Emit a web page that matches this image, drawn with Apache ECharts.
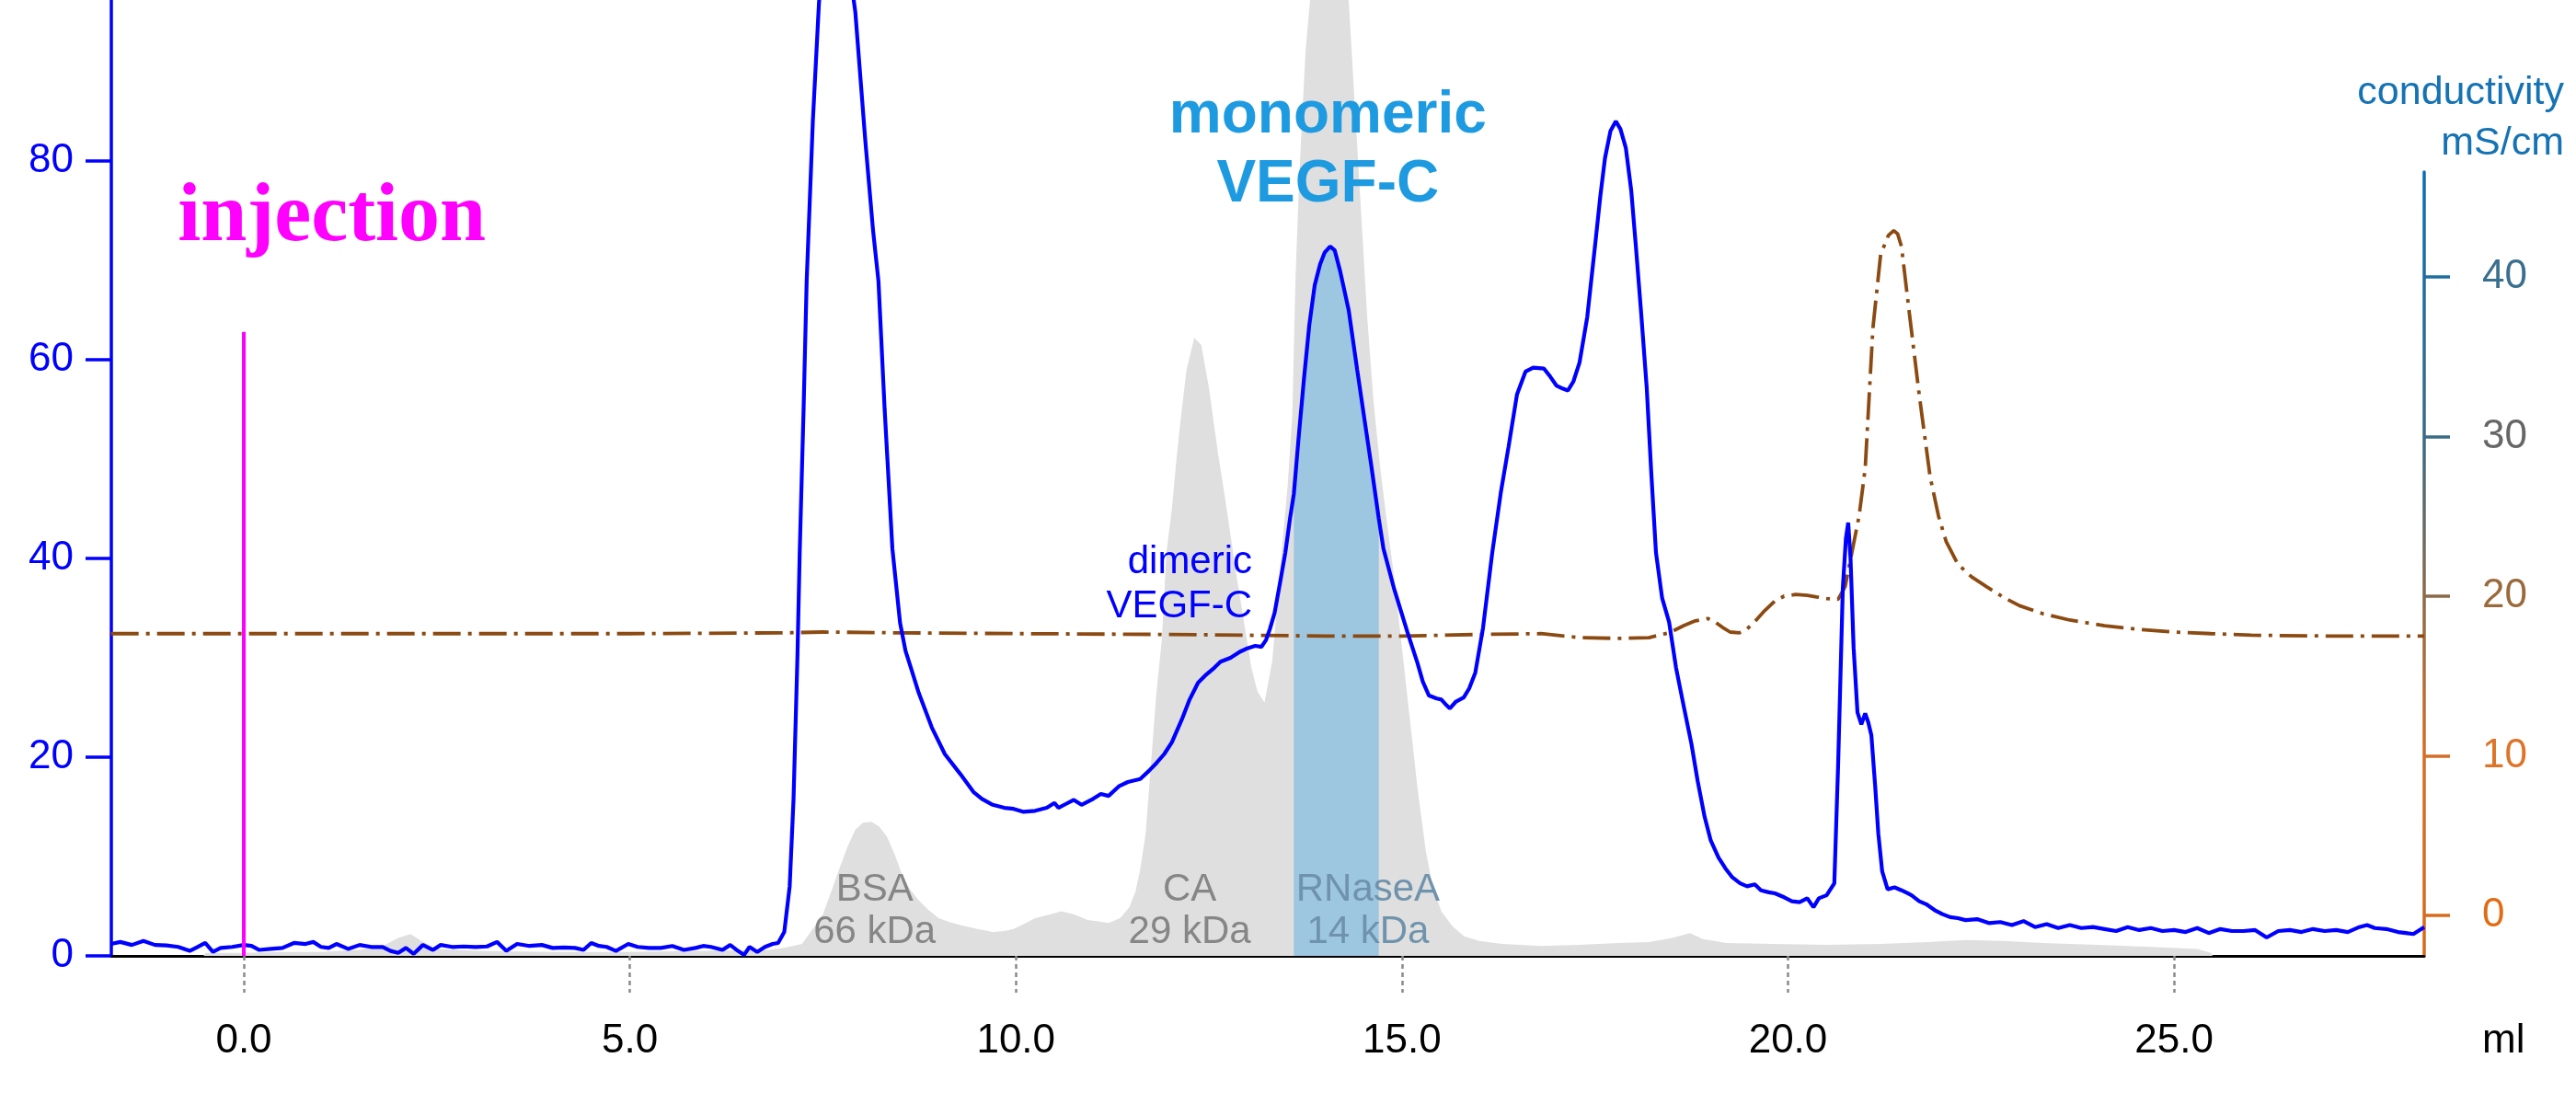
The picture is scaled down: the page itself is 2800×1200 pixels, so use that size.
<!DOCTYPE html>
<html><head><meta charset="utf-8">
<script src="https://cdn.jsdelivr.net/npm/echarts@6/dist/echarts.min.js"></script>
<style>html,body{margin:0;padding:0;background:#fff}#c{width:2800px;height:1200px}</style>
</head><body><div id="c"></div>
<script>
// ---- data (ml, value) ----
const uvTrace = [
[-1.72,1.2],[-1.6,1.4],[-1.45,1.1],[-1.3,1.5],[-1.15,1.1],[-1.0,1.05],[-0.85,0.9],[-0.7,0.5],[-0.6,0.9],[-0.5,1.3],
[-0.4,0.4],[-0.3,0.8],[-0.15,0.9],[0.0,1.1],[0.1,1.0],[0.2,0.6],[0.35,0.7],[0.5,0.8],[0.65,1.3],[0.8,1.2],
[0.9,1.4],[1.0,0.9],[1.1,0.8],[1.2,1.2],[1.35,0.7],[1.5,1.1],[1.65,0.9],[1.8,0.9],[1.9,0.5],[2.0,0.3],
[2.1,0.8],[2.2,0.2],[2.32,1.1],[2.45,0.6],[2.55,1.1],[2.7,0.9],[2.85,0.95],[3.0,0.9],[3.15,0.95],[3.28,1.4],
[3.4,0.5],[3.54,1.2],[3.7,1.0],[3.86,1.1],[4.0,0.8],[4.15,0.85],[4.29,0.8],[4.4,0.6],[4.5,1.3],[4.6,1.0],
[4.7,0.9],[4.82,0.5],[4.98,1.2],[5.1,0.9],[5.25,0.8],[5.4,0.8],[5.55,1.0],[5.7,0.6],[5.85,0.8],[5.95,1.0],
[6.05,0.9],[6.2,0.6],[6.3,1.1],[6.4,0.5],[6.48,0.1],[6.55,0.9],[6.65,0.4],[6.75,0.9],[6.85,1.2],[6.92,1.3],
[7.0,2.4],[7.07,7],[7.12,15.8],[7.17,30],[7.2,40.6],[7.25,55],[7.29,67.9],[7.37,84],[7.45,96],[7.55,104],
[7.65,106],[7.75,104],[7.85,99],[7.92,95],[8.05,82],[8.15,73],[8.22,67.9],[8.3,55],[8.4,41],[8.5,33.5],
[8.57,30.7],[8.64,29],[8.74,26.5],[8.91,23],[9.08,20.3],[9.28,18.3],[9.45,16.5],[9.56,15.8],[9.7,15.2],[9.85,14.9],
[9.97,14.8],[10.1,14.5],[10.25,14.6],[10.4,14.9],[10.5,15.4],[10.55,14.9],[10.65,15.3],[10.75,15.7],[10.85,15.2],[11.0,15.8],
[11.1,16.3],[11.2,16.1],[11.34,17.1],[11.45,17.5],[11.61,17.8],[11.72,18.6],[11.82,19.4],[11.92,20.3],[12.02,21.5],[12.16,24],
[12.25,25.8],[12.36,27.5],[12.45,28.2],[12.57,29],[12.65,29.6],[12.78,30],[12.9,30.6],[12.98,30.9],[13.1,31.2],[13.18,31.1],
[13.24,31.8],[13.29,32.9],[13.35,34.5],[13.42,37.5],[13.49,40.6],[13.55,44],[13.6,46.5],[13.66,52],[13.73,58],[13.8,63.5],
[13.87,67.5],[13.94,69.6],[14.0,70.8],[14.07,71.4],[14.13,71],[14.2,68.9],[14.31,65],[14.42,59],[14.52,53.7],[14.6,49.5],
[14.7,44],[14.76,41],[14.9,36.9],[15.07,32.6],[15.2,29.5],[15.27,27.6],[15.35,26.2],[15.45,25.9],[15.51,25.8],[15.58,25.2],
[15.62,24.9],[15.7,25.6],[15.8,26],[15.87,26.9],[15.95,28.5],[16.05,33],[16.17,40.6],[16.28,46.6],[16.38,51.2],[16.49,56.5],
[16.6,58.8],[16.7,59.2],[16.84,59.1],[16.92,58.3],[17.0,57.4],[17.08,57.1],[17.15,56.9],[17.22,57.8],[17.3,59.7],[17.4,64.3],
[17.5,71.4],[17.57,76.5],[17.63,80.3],[17.7,83],[17.77,84],[17.83,83.2],[17.9,81.3],[17.97,77],[18.03,71.4],[18.1,64.5],
[18.17,57.2],[18.23,48.5],[18.29,40.6],[18.37,36],[18.46,33.6],[18.55,29],[18.65,25.1],[18.75,21.3],[18.83,17.6],[18.92,14],
[19.0,11.6],[19.1,9.9],[19.19,8.8],[19.28,7.9],[19.38,7.3],[19.47,7.0],[19.57,7.2],[19.65,6.6],[19.75,6.4],[19.83,6.3],
[19.95,5.9],[20.05,5.5],[20.15,5.4],[20.25,5.8],[20.33,4.9],[20.4,5.8],[20.5,6.1],[20.6,7.3],[20.65,19.4],[20.71,37],
[20.75,42],[20.78,43.6],[20.81,40],[20.85,31],[20.9,24.5],[20.95,23.3],[21.0,24.4],[21.04,23.5],[21.08,22.2],[21.13,17],
[21.17,12.3],[21.22,8.5],[21.29,6.7],[21.38,6.9],[21.47,6.6],[21.55,6.3],[21.6,6.1],[21.7,5.5],[21.79,5.2],[21.9,4.6],
[22.0,4.2],[22.1,3.9],[22.2,3.8],[22.3,3.6],[22.45,3.7],[22.6,3.3],[22.75,3.4],[22.9,3.1],[23.05,3.5],[23.2,2.9],
[23.35,3.2],[23.5,2.8],[23.65,3.1],[23.8,2.8],[23.95,2.9],[24.1,2.7],[24.25,2.5],[24.4,2.9],[24.55,2.6],[24.7,2.8],
[24.85,2.5],[25.0,2.6],[25.15,2.4],[25.3,2.8],[25.45,2.3],[25.6,2.7],[25.75,2.5],[25.9,2.5],[26.05,2.6],[26.2,1.85],
[26.35,2.5],[26.5,2.6],[26.65,2.4],[26.8,2.7],[26.95,2.5],[27.1,2.6],[27.25,2.4],[27.4,2.9],[27.5,3.1],[27.6,2.8],
[27.75,2.7],[27.9,2.4],[28.0,2.3],[28.1,2.2],[28.24,2.9]
];
const standardTrace = [
[-0.52,0],[-0.5,0.3],[0,0.3],[0.5,0.4],[1.0,0.4],[1.5,0.6],[1.8,1.0],[2.0,1.8],[2.16,2.2],[2.3,1.5],
[2.5,0.7],[3.0,0.5],[4.0,0.4],[5.0,0.4],[6.0,0.5],[6.8,0.6],[7.0,0.8],[7.23,1.2],[7.35,2.5],[7.5,4.2],
[7.6,6.3],[7.71,8.7],[7.82,11],[7.92,12.7],[8.02,13.4],[8.13,13.5],[8.23,13],[8.33,12],[8.43,10.2],[8.53,8.1],
[8.63,6.7],[8.74,5.6],[8.87,4.6],[9.0,3.8],[9.14,3.4],[9.28,3.1],[9.5,2.7],[9.7,2.4],[9.85,2.5],[9.97,2.7],
[10.1,3.2],[10.25,3.8],[10.45,4.2],[10.59,4.5],[10.75,4.2],[10.93,3.6],[11.05,3.5],[11.2,3.3],[11.35,3.8],[11.47,4.9],
[11.55,6.5],[11.61,8.7],[11.68,12.3],[11.75,19.4],[11.82,26.5],[11.89,31.8],[11.95,40.6],[12.02,45],[12.08,50],[12.13,53.7],
[12.21,59],[12.31,62.2],[12.4,61.5],[12.5,57.2],[12.61,51],[12.73,45],[12.85,38.6],[12.96,33.3],[13.05,29],[13.13,26.6],
[13.22,25.5],[13.32,29.7],[13.42,38.6],[13.52,47.4],[13.58,54.5],[13.62,67.9],[13.67,78.5],[13.75,90.9],[13.81,96.2],[13.9,102],
[14.0,106],[14.1,107],[14.2,104],[14.31,96.2],[14.39,85.6],[14.47,74.9],[14.55,64.3],[14.63,56],[14.72,49],[14.8,44],
[14.9,38],[15.0,31],[15.1,24],[15.2,17],[15.31,10.5],[15.4,7],[15.51,4.5],[15.65,3],[15.8,2],[16.0,1.5],
[16.3,1.2],[16.8,1.0],[17.3,1.1],[17.8,1.3],[18.2,1.4],[18.5,1.8],[18.73,2.3],[18.9,1.7],[19.2,1.3],[19.8,1.2],
[20.5,1.1],[21.2,1.2],[21.8,1.4],[22.3,1.6],[22.8,1.5],[23.3,1.3],[24.0,1.1],[24.7,0.9],[25.3,0.7],[25.48,0.3],[25.5,0]
];
const conductivity = [
[-1.72,17.65],[0,17.65],[5,17.65],[7.0,17.7],[7.5,17.75],[8.5,17.7],[10,17.65],[12,17.6],[13,17.55],[14,17.5],
[15,17.5],[16,17.6],[16.8,17.65],[17.3,17.4],[17.8,17.35],[18.2,17.4],[18.46,17.7],[18.65,18.15],[18.8,18.45],[18.96,18.6],
[19.05,18.4],[19.15,18.05],[19.25,17.75],[19.37,17.7],[19.47,17.95],[19.57,18.4],[19.7,19.1],[19.83,19.7],[19.95,20.0],[20.1,20.1],
[20.25,20.05],[20.37,19.95],[20.5,19.85],[20.65,19.8],[20.74,20.6],[20.83,22.8],[20.92,25],[21.0,28],[21.1,36.8],[21.2,41.4],
[21.3,42.6],[21.37,42.9],[21.42,42.7],[21.47,41.9],[21.57,37.8],[21.7,32.6],[21.84,27.5],[21.95,25],[22.05,23.4],[22.2,22.0],
[22.38,21.2],[22.57,20.6],[22.8,19.9],[23.0,19.4],[23.3,18.9],[23.65,18.5],[24.1,18.15],[24.57,17.9],[25.0,17.75],[25.48,17.65],
[26,17.55],[27,17.5],[28.24,17.5]
];
const xTicks = [0, 5, 10, 15, 20, 25];
const uvTicks = [0, 20, 40, 60, 80];
const condTicks = [0, 10, 20, 30, 40];
const fillRange = [13.6, 14.7];          // monomeric VEGF-C fraction (ml)
const injectionMl = 0;
const injectionTop = 62.8;
const annotationTexts = ['injection', 'monomeric\nVEGF-C', 'dimeric\nVEGF-C', 'BSA\n66 kDa', 'CA\n29 kDa', 'RNaseA\n14 kDa'];

// ---- chart ----
const FONT = '"Liberation Sans", Arial, sans-serif';
const fillData = uvTrace.filter(p => p[0] >= fillRange[0] && p[0] <= fillRange[1]);
const condGrad = {type:'linear', global:true, x:0, y:187, x2:0, y2:1039, colorStops:[
  {offset:0, color:'#0b6fb4'}, {offset:0.34, color:'#3b6b86'}, {offset:0.54, color:'#8c6a4a'},
  {offset:0.74, color:'#d46e28'}, {offset:1, color:'#d86a1a'}]};
const condLabelColor = {40:'#3a6f8f', 30:'#666666', 20:'#9a6a3c', 10:'#dd7428', 0:'#e06c14'};

const chart = echarts.init(document.getElementById('c'), null, {renderer:'canvas'});
const grayLbl = {fontSize:42, lineHeight:46, color:'#868686', fontFamily:FONT};
chart.setOption({
  animation:false,
  backgroundColor:'#ffffff',
  title:{text:'conductivity\nmS/cm', left:'right', top:74, padding:[0,13,0,0],
    textStyle:{fontSize:43, lineHeight:55, color:'#1572b3', fontWeight:'normal', fontFamily:FONT}},
  grid:[
    {left:121, right:165, top:0, bottom:161, outerBoundsMode:'none', containLabel:false},
    {left:121, right:165, top:187, bottom:161, outerBoundsMode:'none', containLabel:false}
  ],
  xAxis:[
    {type:'value', gridIndex:0, min:-1.716, max:28.24,
     name:'ml', nameLocation:'end', nameGap:63, nameMoveOverlap:false,
     nameTextStyle:{fontSize:44, color:'#000', fontFamily:FONT, verticalAlign:'top', lineHeight:44, padding:[71,0,0,0]},
     axisLine:{show:true, onZero:false, lineStyle:{color:'#000', width:3}},
     axisTick:{show:true, customValues:xTicks, length:40, inside:false, lineStyle:{color:'#8a8a8a', width:2.5, type:[5,4]}},
     axisLabel:{show:true, customValues:xTicks, margin:71, fontSize:44, lineHeight:44, color:'#000', fontFamily:FONT,
       formatter:v => Number(v).toFixed(1)},
     splitLine:{show:false}},
    {type:'value', gridIndex:1, min:-1.716, max:28.24, show:false}
  ],
  yAxis:[
    {type:'value', gridIndex:0, min:0, max:96.2, position:'left',
     axisLine:{show:true, onZero:false, lineStyle:{color:'#0000ff', width:3.5}},
     axisTick:{show:true, customValues:uvTicks, length:28, inside:false, lineStyle:{color:'#0000ff', width:3.5}},
     axisLabel:{show:true, customValues:uvTicks, margin:41, fontSize:44, color:'#0000ff', fontFamily:FONT},
     splitLine:{show:false}},
    {type:'value', gridIndex:1, min:-2.54, max:46.57, position:'right',
     axisLine:{show:true, onZero:false, lineStyle:{color:condGrad, width:3.5}},
     axisTick:{show:true, customValues:condTicks, length:28, inside:false, lineStyle:{color:condGrad, width:3.5}},
     axisLabel:{show:true, customValues:condTicks, margin:63, align:'left', fontSize:44, fontFamily:FONT,
       color:v => condLabelColor[Math.round(v)] || '#666'},
     splitLine:{show:false}}
  ],
  series:[
    {name:'standards', type:'line', xAxisIndex:0, yAxisIndex:0, data:standardTrace, showSymbol:false, silent:true,
     lineStyle:{width:0, color:'#d4d4d4'}, areaStyle:{color:'#dfdfdf', opacity:1}, z:1},
    {name:'fraction', type:'line', xAxisIndex:0, yAxisIndex:0, data:fillData, showSymbol:false, silent:true,
     lineStyle:{width:0}, areaStyle:{color:'rgba(125,185,225,0.68)', opacity:1}, z:2},
    {name:'conductivity', type:'line', xAxisIndex:1, yAxisIndex:1, data:conductivity, showSymbol:false, silent:true,
     lineStyle:{color:'#8b4a12', width:3.8, type:[30,8,4,8]}, z:3},
    {name:'UV', type:'line', xAxisIndex:0, yAxisIndex:0, data:uvTrace, showSymbol:false, silent:true,
     lineStyle:{color:'#0000ff', width:4.2}, z:4,
     markLine:{silent:true, symbol:['none','none'], label:{show:false},
       lineStyle:{color:'#ff00ff', width:4, type:'solid', opacity:1},
       data:[[{coord:[injectionMl,0]},{coord:[injectionMl,injectionTop]}]]}},
    {name:'labels', type:'scatter', xAxisIndex:0, yAxisIndex:0, symbolSize:0, silent:true, z:6,
     itemStyle:{opacity:1},
     label:{show:true, position:'inside', formatter:'{b}'},
     data:[
       {name:annotationTexts[0], value:[1.14,74.2], label:{fontSize:90, fontFamily:'"Liberation Serif", serif', fontWeight:'bold', color:'#ff00ff'}},
       {name:annotationTexts[1], value:[14.04,81.0], label:{fontSize:64, lineHeight:75, fontWeight:'bold', color:'#1e9be0', fontFamily:FONT}},
       {name:annotationTexts[2], value:[13.06,37.4], label:{fontSize:42, lineHeight:48, color:'#0000ff', align:'right', fontFamily:FONT}},
       {name:annotationTexts[3], value:[8.17,4.54], label:grayLbl},
       {name:annotationTexts[4], value:[12.25,4.54], label:grayLbl},
       {name:annotationTexts[5], value:[14.56,4.54], label:Object.assign({}, grayLbl, {color:'#6f93ad'})}
     ]}
  ]
});
</script>
</body></html>
